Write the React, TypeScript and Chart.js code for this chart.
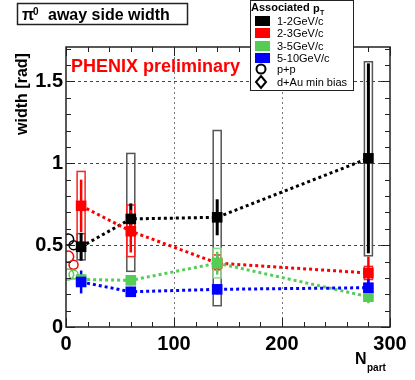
import React, { useEffect, useRef } from 'react';
import { Chart, registerables } from 'chart.js';
Chart.register(...registerables);

// ---------- data ----------
const nPart = [14, 60, 140, 280];
const width12 = [0.49, 0.66, 0.67, 1.03];
const width23 = [0.74, 0.585, 0.39, 0.33];
const width35 = [0.29, 0.285, 0.39, 0.185];
const width510 = [0.275, 0.215, 0.23, 0.24];

const stat12 = [0.085, 0.095, 0.11, 0.58];
const stat23 = [0.16, 0.13, 0.05, 0.1];
const stat35 = [0.03, 0.03, 0.07, 0.04];
const stat510 = [0.07, 0.03, 0.03, 0.05];

const sys12 = [[0.41, 0.57], [0.34, 1.06], [0.13, 1.2], [0.435, 1.62]];
const sys23 = [[0.49, 0.95], [0.43, 0.745], [0.35, 0.44], [0.29, 0.37]];
const sys35 = [[0.27, 0.31], [0.26, 0.31], [0.3, 0.48], [0.16, 0.21]];
const sys510 = [[0.25, 0.3], [0.2, 0.23], [0.21, 0.25], [0.22, 0.26]];

const ppN = 2;
const ppWidth = [0.535, 0.43, 0.32];
const dAuN = 7;
const dAuWidth = [0.5, 0.38, 0.32];

const seriesLabels = ['1-2GeV/c', '2-3GeV/c', '3-5GeV/c', '5-10GeV/c'];
const xTickValues = [0, 100, 200, 300];
const yTickValues = [0, 0.5, 1, 1.5];

// ---------- styles ----------
const colors = ['#000000', '#ff0000', '#55cc55', '#0000ff'];
const boxColors = ['#555555', '#ff2020', '#88dd88', '#3030ff'];
const statWidths = [3, 2.5, 2.5, 2.5];
const FONT = "'Liberation Sans', Arial, Helvetica, sans-serif";

const widths = [width12, width23, width35, width510];
const stats = [stat12, stat23, stat35, stat510];
const syss = [sys12, sys23, sys35, sys510];

const decor = {
  id: 'decor',
  beforeDatasetsDraw(chart: any) {
    const { ctx, chartArea: a, scales } = chart;
    const x = scales.x, y = scales.y;
    ctx.save();
    // grid
    ctx.lineWidth = 1;
    ctx.strokeStyle = '#444';
    ctx.setLineDash([3, 3]);
    [0.5, 1, 1.5].forEach((v) => {
      const py = Math.round(y.getPixelForValue(v)) + 0.5;
      ctx.beginPath(); ctx.moveTo(a.left, py); ctx.lineTo(a.right, py); ctx.stroke();
    });
    ctx.strokeStyle = '#777';
    ctx.setLineDash([2, 3]);
    [100, 200].forEach((v) => {
      const px = Math.round(x.getPixelForValue(v)) + 0.5;
      ctx.beginPath(); ctx.moveTo(px, a.top); ctx.lineTo(px, a.bottom); ctx.stroke();
    });
    ctx.setLineDash([]);
    // systematic boxes
    syss.forEach((s, si) => {
      ctx.strokeStyle = boxColors[si];
      ctx.lineWidth = 1.5;
      s.forEach(([lo, hi], i) => {
        const px = x.getPixelForValue(nPart[i]);
        const top = y.getPixelForValue(hi);
        const bot = y.getPixelForValue(lo);
        ctx.strokeRect(px - 4, top, 8, bot - top);
      });
    });
    // statistical bars
    stats.forEach((s, si) => {
      ctx.strokeStyle = colors[si];
      ctx.lineWidth = statWidths[si];
      s.forEach((e, i) => {
        const px = x.getPixelForValue(nPart[i]);
        const v = widths[si][i];
        ctx.beginPath();
        ctx.moveTo(px, y.getPixelForValue(v + e));
        ctx.lineTo(px, y.getPixelForValue(v - e));
        ctx.stroke();
      });
    });
    ctx.restore();
  },
  afterDraw(chart: any) {
    const { ctx, chartArea: a, scales } = chart;
    const x = scales.x, y = scales.y;
    ctx.save();
    // frame
    ctx.strokeStyle = '#222';
    ctx.lineWidth = 1.5;
    ctx.strokeRect(a.left, a.top, a.right - a.left, a.bottom - a.top);
    // ticks
    ctx.lineWidth = 1;
    for (let k = 0; k <= 17; k++) {
      const v = k / 10;
      const py = Math.round(y.getPixelForValue(v)) + 0.5;
      const len = k % 5 === 0 ? 9 : 5;
      ctx.beginPath();
      ctx.moveTo(a.left, py); ctx.lineTo(a.left + len, py);
      ctx.moveTo(a.right, py); ctx.lineTo(a.right - len, py);
      ctx.stroke();
    }
    for (let k = 0; k <= 15; k++) {
      const v = k * 20;
      const px = Math.round(x.getPixelForValue(v)) + 0.5;
      const len = k % 5 === 0 ? 9 : 5;
      ctx.beginPath();
      ctx.moveTo(px, a.bottom); ctx.lineTo(px, a.bottom - len);
      ctx.moveTo(px, a.top); ctx.lineTo(px, a.top + len);
      ctx.stroke();
    }
    // title box
    ctx.fillStyle = '#fff';
    ctx.fillRect(17.5, 3.5, 170, 21);
    ctx.strokeStyle = '#222';
    ctx.lineWidth = 1.5;
    ctx.strokeRect(17.5, 3.5, 170, 21);
    ctx.fillStyle = '#000';
    ctx.textBaseline = 'alphabetic';
    ctx.textAlign = 'left';
    ctx.font = `bold 16px ${FONT}`;
    ctx.fillText('π', 22, 20);
    ctx.font = `bold 10px ${FONT}`;
    ctx.fillText('0', 33, 15);
    ctx.font = `bold 16px ${FONT}`;
    ctx.fillText('away side width', 48, 20);
    // PHENIX preliminary
    ctx.fillStyle = '#ff0000';
    ctx.font = `bold 18px ${FONT}`;
    ctx.fillText('PHENIX preliminary', 71, 72);
    // y title
    ctx.save();
    ctx.translate(27, 94);
    ctx.rotate(-Math.PI / 2);
    ctx.fillStyle = '#000';
    ctx.textAlign = 'center';
    ctx.font = `bold 16px ${FONT}`;
    ctx.fillText('width [rad]', 0, 0);
    ctx.restore();
    // N_part
    ctx.fillStyle = '#000';
    ctx.font = `bold 16px ${FONT}`;
    ctx.fillText('N', 355, 364);
    ctx.font = `bold 10px ${FONT}`;
    ctx.fillText('part', 367, 371);
    // legend
    ctx.fillStyle = '#fff';
    ctx.fillRect(250.5, 0.5, 103, 90);
    ctx.strokeStyle = '#222';
    ctx.lineWidth = 1;
    ctx.strokeRect(250.5, 0.5, 103, 90);
    ctx.fillStyle = '#000';
    ctx.font = `bold 11px ${FONT}`;
    ctx.fillText('Associated', 251, 11);
    ctx.fillText('p', 313, 12);
    ctx.font = `bold 7px ${FONT}`;
    ctx.fillText('T', 320, 15);
    const rows = [21, 33, 46, 58];
    ctx.textBaseline = 'middle';
    seriesLabels.forEach((lab, i) => {
      ctx.fillStyle = colors[i];
      ctx.fillRect(255, rows[i] - 5, 15, 10);
      ctx.fillStyle = '#000';
      ctx.font = `11px ${FONT}`;
      ctx.fillText(lab, 277, rows[i] + 1);
    });
    ctx.strokeStyle = '#000';
    ctx.lineWidth = 2;
    ctx.beginPath(); ctx.arc(261, 69, 4.5, 0, Math.PI * 2); ctx.stroke();
    ctx.fillText('p+p', 277, 70);
    ctx.beginPath();
    ctx.moveTo(261, 76); ctx.lineTo(266, 82); ctx.lineTo(261, 88); ctx.lineTo(256, 82); ctx.closePath();
    ctx.stroke();
    ctx.fillText('d+Au min bias', 277, 83);
    ctx.restore();
  },
};

export default function App() {
  const ref = useRef<HTMLCanvasElement>(null);
  useEffect(() => {
    if (!ref.current) return;
    const lineSets = widths.map((w, i) => ({
      label: seriesLabels[i],
      data: w.map((v, k) => ({ x: nPart[k], y: v })),
      showLine: true,
      borderColor: colors[i],
      backgroundColor: colors[i],
      borderWidth: 3,
      borderDash: [3, 3],
      pointStyle: 'rect',
      pointRadius: 7.5,
      pointBorderWidth: 0,
      pointBackgroundColor: colors[i],
      order: 4 - i,
    }));
    const pp = {
      label: 'p+p',
      data: ppWidth.map((v) => ({ x: ppN, y: v })),
      showLine: false,
      pointStyle: 'circle',
      pointRadius: 5.5,
      pointBorderWidth: 1.5,
      pointBorderColor: colors.slice(0, 3),
      pointBackgroundColor: 'rgba(0,0,0,0)',
      order: 6,
    };
    const dAu = {
      label: 'd+Au min bias',
      data: dAuWidth.map((v) => ({ x: dAuN, y: v })),
      showLine: false,
      pointStyle: 'circle',
      pointRadius: 4.5,
      pointBorderWidth: 1.5,
      pointBorderColor: colors.slice(0, 3),
      pointBackgroundColor: 'rgba(0,0,0,0)',
      order: 5,
    };
    const chart = new Chart(ref.current, {
      type: 'scatter',
      data: { datasets: [...lineSets, pp, dAu] as any },
      options: {
        animation: false,
        responsive: false,
        devicePixelRatio: 1,
        layout: { padding: { top: 47, right: 25, left: 0, bottom: 0 } },
        plugins: { legend: { display: false }, tooltip: { enabled: false } },
        scales: {
          x: {
            type: 'linear',
            min: 0,
            max: 300,
            grid: { display: false, drawTicks: false },
            border: { display: false },
            afterFit: (s: any) => { s.height = 53; },
            afterBuildTicks: (s: any) => { s.ticks = xTickValues.map((v) => ({ value: v })); },
            ticks: {
              maxRotation: 0,
              padding: 5,
              color: '#000',
              font: { family: FONT, size: 20, weight: 'bold' },
              callback: (v: any) => String(v),
            },
          },
          y: {
            type: 'linear',
            min: 0,
            max: 1.71,
            grid: { display: false, drawTicks: false },
            border: { display: false },
            afterFit: (s: any) => { s.width = 66; },
            afterBuildTicks: (s: any) => { s.ticks = yTickValues.map((v) => ({ value: v })); },
            ticks: {
              padding: 3,
              color: '#000',
              font: { family: FONT, size: 20, weight: 'bold' },
              callback: (v: any) => String(v),
            },
          },
        },
      },
      plugins: [decor],
    });
    return () => chart.destroy();
  }, []);
  return (
    <div style={{ position: 'absolute', left: 0, top: 0, width: 415, height: 380, background: '#fff' }}>
      <canvas ref={ref} width={415} height={380} />
    </div>
  );
}
